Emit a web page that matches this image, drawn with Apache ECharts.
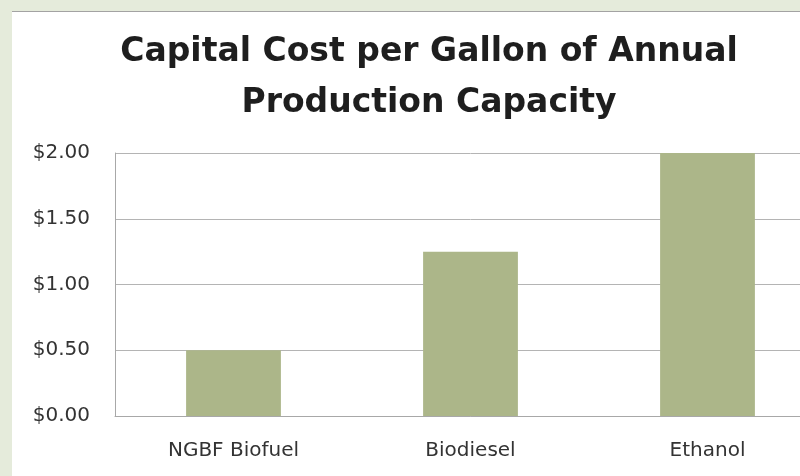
<!DOCTYPE html>
<html>
<head>
<meta charset="utf-8">
<script src="https://cdn.jsdelivr.net/npm/echarts@6/dist/echarts.min.js"></script>
<style>
  html, body { margin: 0; padding: 0; background: #e5ebdb; overflow: hidden; }
  #chart {
    position: absolute; left: 12px; top: 11px;
    width: 814px; height: 465px;
    background: #ffffff; border-top: 1px solid #a3a3a3;
  }
</style>
</head>
<body>
<div id="chart"></div>
<script>
const categories = ['NGBF Biofuel', 'Biodiesel', 'Ethanol'];
const costValues = [0.5, 1.25, 2.0];
const titleLines = ['Capital Cost per Gallon of Annual', 'Production Capacity'];

const chart = echarts.init(document.getElementById('chart'));

const labelFont = 'DejaVu Sans';

const option = {
  animation: false,
  graphic: [
    {
      type: 'text',
      x: 429 - 12,
      y: 15,
      style: {
        text: titleLines.join('\n'),
        font: 'bold 33px "DejaVu Sans"',
        fill: '#1e1e1e',
        align: 'center',
        verticalAlign: 'top',
        lineHeight: 51
      }
    }
  ],
  grid: { left: 103, right: 0, top: 141, bottom: 61, containLabel: false },
  xAxis: {
    type: 'category',
    data: categories,
    axisLine: { show: true, lineStyle: { color: '#a8a8a8', width: 1 } },
    axisTick: { show: false },
    axisLabel: { color: '#333', fontSize: 20, fontFamily: labelFont, margin: 25 }
  },
  yAxis: {
    type: 'value',
    min: 0, max: 2, interval: 0.5,
    axisLine: { show: true, lineStyle: { color: '#a8a8a8', width: 1 } },
    axisTick: { show: false },
    splitLine: { lineStyle: { color: '#b4b4b4', width: 1 } },
    axisLabel: {
      color: '#333', fontSize: 20, fontFamily: labelFont, margin: 25,
      formatter: v => '$' + v.toFixed(2)
    }
  },
  series: [
    {
      type: 'bar',
      data: costValues,
      barWidth: '40%',
      itemStyle: { color: '#acb689' }
    }
  ]
};

chart.setOption(option);
</script>
</body>
</html>
